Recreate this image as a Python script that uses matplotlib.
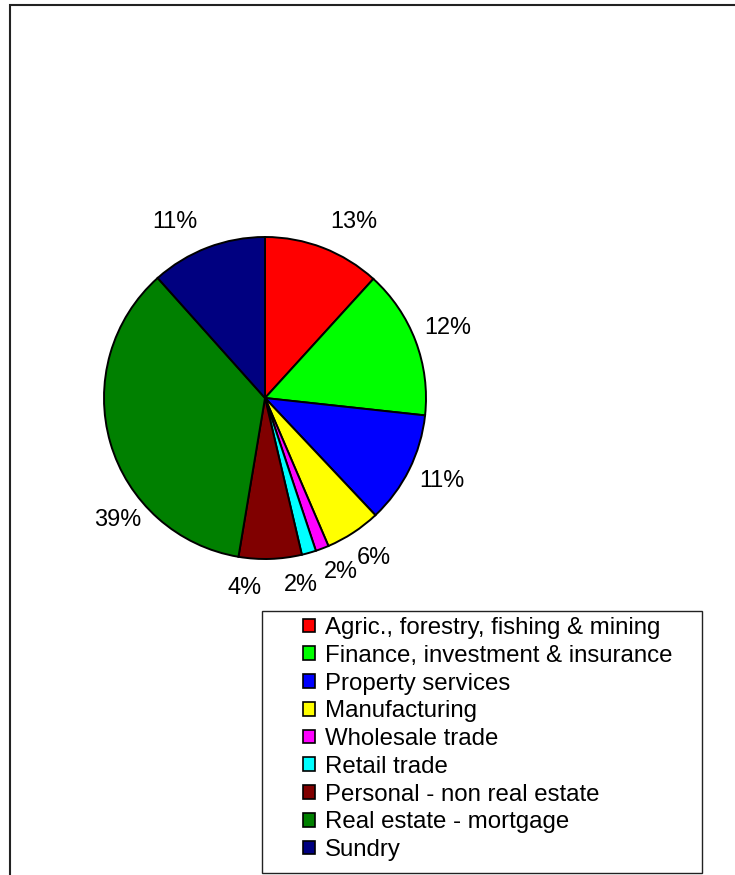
import matplotlib
matplotlib.use("Agg")
import matplotlib.pyplot as plt
import numpy as np
from matplotlib.patches import Rectangle, Patch
from matplotlib.lines import Line2D

plt.rcParams['font.family'] = ['Liberation Sans', 'DejaVu Sans']

# ---- data ----
categories = ["Agric., forestry, fishing & mining",
              "Finance, investment & insurance",
              "Property services",
              "Manufacturing",
              "Wholesale trade",
              "Retail trade",
              "Personal - non real estate",
              "Real estate - mortgage",
              "Sundry"]
shares = [11.75, 14.97, 11.25, 5.58, 1.33, 1.44, 6.31, 35.75, 11.61]
pct_labels = ["13%", "12%", "11%", "6%", "2%", "2%", "4%", "39%", "11%"]
colors = ["#FF0000", "#00FF00", "#0000FF", "#FFFF00", "#FF00FF",
          "#00FFFF", "#800000", "#008000", "#000080"]

# label nudges (pixels, x right / y down) relative to default label spot
label_nudge = [(19, 4), (2, -2), (4, -4), (3, -2), (7, -7),
               (-17, 1), (-27, -4), (38, 68), (-21, 4)]

W, H = 735, 875
DPI = 100
fig = plt.figure(figsize=(W / DPI, H / DPI), dpi=DPI)
ax = fig.add_axes([0, 0, 1, 1])

cx, cy = 265, H - 398
R = 161
fs_pct = 23.5 * 72 / DPI
fs_leg = 24 * 72 / DPI

wedges, _ = ax.pie(shares, colors=colors, startangle=90, counterclock=False,
                   center=(cx, cy), radius=R,
                   wedgeprops=dict(edgecolor='black', linewidth=1.4))

# percentage labels
total = sum(shares)
cum = np.cumsum([0] + shares[:-1])
for i, (v, lab) in enumerate(zip(shares, pct_labels)):
    mid = (cum[i] + v / 2) / total * 360.0
    th = np.deg2rad(mid)
    r = 1.2 * R
    x = cx + r * np.sin(th) + label_nudge[i][0]
    y = cy + r * np.cos(th) - label_nudge[i][1]
    ax.text(x, y, lab, ha='center', va='center', fontsize=fs_pct, color='black')

# outer frame (left and top edges)
ax.add_line(Line2D([10, 10, W + 5], [-5, H - 5, H - 5], color='#222222',
                   linewidth=1.5, solid_joinstyle='miter'))

# legend box
ax.add_patch(Rectangle((262, H - 873), 702 - 262, 873 - 611, facecolor='white',
                       edgecolor='#222222', linewidth=1.0, zorder=1))

handles = [Patch(facecolor=c, edgecolor='black', linewidth=1.2) for c in colors]
leg = ax.legend(handles, categories, loc='upper left',
                bbox_to_anchor=(303 / W, 1 - 617 / H), bbox_transform=fig.transFigure,
                frameon=False, fontsize=fs_leg, borderpad=0, borderaxespad=0,
                handlelength=0.5, handleheight=0.5, handletextpad=0.4,
                labelspacing=0.24)
leg.set_zorder(3)

ax.set_xlim(0, W)
ax.set_ylim(0, H)
ax.set_aspect('equal')
ax.axis('off')

fig.savefig("out.png", dpi=DPI, facecolor='white')
